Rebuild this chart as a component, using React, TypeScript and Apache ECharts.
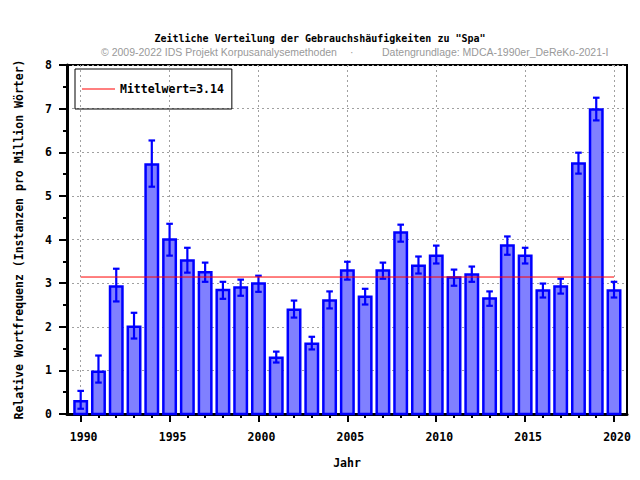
import React, { useEffect, useRef } from 'react';
import * as echarts from 'echarts';

const years = [1990, 1991, 1992, 1993, 1994, 1995, 1996, 1997, 1998, 1999, 2000, 2001, 2002, 2003, 2004, 2005, 2006, 2007, 2008, 2009, 2010, 2011, 2012, 2013, 2014, 2015, 2016, 2017, 2018, 2019, 2020];
const values = [0.29, 0.97, 2.92, 2.0, 5.72, 4.0, 3.52, 3.25, 2.84, 2.9, 2.99, 1.29, 2.39, 1.61, 2.6, 3.29, 2.69, 3.29, 4.16, 3.4, 3.63, 3.13, 3.2, 2.65, 3.86, 3.63, 2.83, 2.92, 5.74, 6.98, 2.83];
const errLow = [0.12, 0.72, 2.58, 1.73, 5.21, 3.63, 3.24, 3.03, 2.64, 2.71, 2.8, 1.18, 2.21, 1.48, 2.42, 3.08, 2.51, 3.1, 3.95, 3.22, 3.45, 2.94, 3.03, 2.48, 3.65, 3.45, 2.67, 2.76, 5.51, 6.73, 2.67];
const errHigh = [0.53, 1.34, 3.33, 2.32, 6.27, 4.36, 3.81, 3.47, 3.03, 3.08, 3.17, 1.43, 2.6, 1.77, 2.81, 3.49, 2.87, 3.47, 4.34, 3.61, 3.86, 3.31, 3.38, 2.81, 4.07, 3.81, 2.99, 3.1, 5.99, 7.25, 3.03];
const meanValue = 3.14;
const majorYears = [1990, 1995, 2000, 2005, 2010, 2015, 2020];

const titleText = 'Zeitliche Verteilung der Gebrauchshäufigkeiten zu "Spa"';
const subLeft = '© 2009-2022 IDS Projekt Korpusanalysemethoden';
const subDot = '·';
const subRight = 'Datengrundlage: MDCA-1990er_DeReKo-2021-I';
const yName = 'Relative Wortfrequenz (Instanzen pro Million Wörter)';
const xName = 'Jahr';
const legendName = 'Mittelwert=' + meanValue;

const MONO = '"DejaVu Sans Mono", "Liberation Mono", monospace';

export default function App() {
  const ref = useRef<HTMLDivElement>(null);
  useEffect(() => {
    const chart = echarts.init(ref.current!, null, { renderer: 'svg' });
    const xMin = 1989.23;
    const xMax = 2020.73;
    const option: any = {
      animation: false,
      backgroundColor: '#fff',
      title: [
        { text: titleText, left: 'center', top: 28, textStyle: { fontFamily: MONO, fontWeight: 'bold', fontSize: 10, color: '#000' } },
        { text: subLeft, left: 96, top: 41, textStyle: { fontFamily: '"Liberation Sans", sans-serif', fontWeight: 'normal', fontSize: 10.5, color: '#999' } },
        { text: subDot, left: 345, top: 41, textStyle: { fontFamily: '"Liberation Sans", sans-serif', fontWeight: 'normal', fontSize: 10.5, color: '#999' } },
        { text: subRight, left: 377, top: 41, textStyle: { fontFamily: '"Liberation Sans", sans-serif', fontWeight: 'normal', fontSize: 10.5, color: '#999' } },
      ],
      legend: {
        data: [legendName],
        left: 75,
        top: 69,
        orient: 'horizontal',
        borderColor: '#000',
        borderWidth: 1,
        borderRadius: 0,
        padding: [14, 8, 14, 7],
        icon: 'rect',
        itemWidth: 33,
        itemHeight: 1,
        itemGap: 5,
        selectedMode: false,
        textStyle: { fontFamily: MONO, fontWeight: 'bold', fontSize: 11.5, color: '#000' },
      },
      grid: { left: 67, right: 13, top: 65, bottom: 66, show: true, borderColor: '#000', borderWidth: 2, containLabel: false },
      xAxis: [
        {
          type: 'value', min: xMin, max: xMax,
          name: xName, nameLocation: 'middle', nameGap: 43,
          nameTextStyle: { fontFamily: MONO, fontWeight: 'bold', fontSize: 11.5, color: '#000' },
          axisLine: { show: true, onZero: false, lineStyle: { color: '#000', width: 3 } },
          axisTick: { show: true, inside: false, length: 8, lineStyle: { color: '#000', width: 2 }, customValues: majorYears },
          axisLabel: { customValues: majorYears, margin: 17, fontFamily: MONO, fontWeight: 'bold', fontSize: 11.5, color: '#000', padding: [0, 0, 0, 6], formatter: (v: number) => String(v) },
          splitLine: { show: true, lineStyle: { color: '#a0a0a0', width: 1, type: [2, 3] } },
        },
        {
          type: 'value', min: xMin, max: xMax, position: 'bottom',
          axisLine: { show: false },
          axisTick: { show: true, inside: false, length: 4, lineStyle: { color: '#000', width: 2 }, customValues: years },
          axisLabel: { show: false },
          splitLine: { show: false },
        },
      ],
      yAxis: {
        type: 'value', min: 0, max: 8, interval: 1,
        name: yName, nameLocation: 'middle', nameGap: 42, nameRotate: 90,
        nameTextStyle: { fontFamily: MONO, fontWeight: 'bold', fontSize: 11.5, color: '#000' },
        axisLine: { show: true, lineStyle: { color: '#000', width: 3 } },
        axisTick: { show: true, inside: false, length: 8, lineStyle: { color: '#000', width: 2 } },
        minorTick: { show: true, splitNumber: 2, length: 4, lineStyle: { color: '#000', width: 2 } },
        axisLabel: { margin: 15, fontFamily: MONO, fontWeight: 'bold', fontSize: 11.5, color: '#000' },
        splitLine: { show: true, lineStyle: { color: '#a0a0a0', width: 1, type: [2, 3] } },
      },
      series: [
        {
          type: 'custom', name: 'bars', xAxisIndex: 0, z: 2,
          data: years.map((y, i) => [y, values[i]]),
          renderItem: (params: any, api: any) => {
            const x = api.value(0);
            const v = api.value(1);
            const top = api.coord([x, v]);
            const base = api.coord([x, 0]);
            const w = api.size([0.7, 0])[0];
            return {
              type: 'rect',
              shape: { x: top[0] - w / 2, y: top[1], width: w, height: base[1] - top[1] },
              style: { fill: '#8080ff', stroke: '#0000ff', lineWidth: 2.5 },
            };
          },
        },
        {
          type: 'custom', name: 'err', xAxisIndex: 0, z: 3,
          data: years.map((y, i) => [y, errLow[i], errHigh[i]]),
          renderItem: (params: any, api: any) => {
            const x = api.value(0);
            const lo = api.coord([x, api.value(1)]);
            const hi = api.coord([x, api.value(2)]);
            const cw = api.size([0.37, 0])[0];
            const st = { stroke: '#0000ff', lineWidth: 2.2 };
            return {
              type: 'group',
              children: [
                { type: 'line', shape: { x1: lo[0], y1: lo[1], x2: hi[0], y2: hi[1] }, style: st },
                { type: 'line', shape: { x1: lo[0] - cw / 2, y1: lo[1], x2: lo[0] + cw / 2, y2: lo[1] }, style: st },
                { type: 'line', shape: { x1: hi[0] - cw / 2, y1: hi[1], x2: hi[0] + cw / 2, y2: hi[1] }, style: st },
              ],
            };
          },
        },
        {
          type: 'line', name: legendName, xAxisIndex: 0, z: 4,
          data: [[years[0], meanValue], [years[years.length - 1], meanValue]],
          symbol: 'none', silent: true,
          lineStyle: { color: '#ff0000', width: 1 },
          itemStyle: { color: '#ff0000' },
        },
      ],
    };
    chart.setOption(option);
    return () => chart.dispose();
  }, []);
  return <div ref={ref} style={{ position: 'absolute', left: 0, top: 0, width: 640, height: 480 }} />;
}
